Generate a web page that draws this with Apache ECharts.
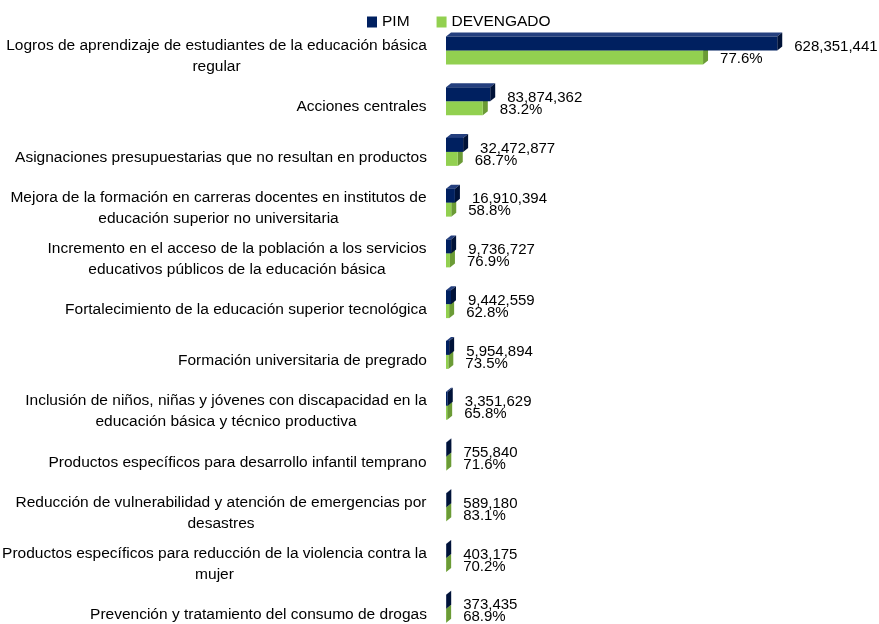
<!DOCTYPE html>
<html>
<head>
<meta charset="utf-8">
<style>
  html, body { margin: 0; padding: 0; background: #fff; }
  #chart { width: 879px; height: 624px; }
</style>
<script src="https://cdn.jsdelivr.net/npm/echarts@6/dist/echarts.min.js"></script>
</head>
<body>
<div id="chart"></div>
<script>
  // categories (top to bottom)
  const categories = [
    'Logros de aprendizaje de estudiantes de la educación básica\nregular',
    'Acciones centrales',
    'Asignaciones presupuestarias que no resultan en productos',
    'Mejora de la formación en carreras docentes en institutos de\neducación superior no universitaria',
    'Incremento en el acceso de la población a los servicios\neducativos públicos de la educación básica',
    'Fortalecimiento de la educación superior tecnológica',
    'Formación universitaria de pregrado',
    'Inclusión de niños, niñas y jóvenes con discapacidad en la\neducación básica y técnico productiva',
    'Productos específicos para desarrollo infantil temprano',
    'Reducción de vulnerabilidad y atención de emergencias por\ndesastres',
    'Productos específicos para reducción de la violencia contra la\nmujer',
    'Prevención y tratamiento del consumo de drogas',
  ];
  const pim = [628351441, 83874362, 32472877, 16910394, 9736727, 9442559,
    5954894, 3351629, 755840, 589180, 403175, 373435];
  // % devengado sobre el PIM
  const avance = [77.6, 83.2, 68.7, 58.8, 76.9, 62.8, 73.5, 65.8, 71.6, 83.1, 70.2, 68.9];

  const devengado = pim.map((v, i) => Math.round(v * avance[i] / 100));

  const FONT = '"Liberation Sans", Arial, sans-serif';
  const CAT_FS = 15.5;
  const VAL_FONT = '15px ' + FONT;

  // widest line of each label, so the lines can be centred like the original
  const ctx = document.createElement('canvas').getContext('2d');
  ctx.font = CAT_FS + 'px ' + FONT;
  const rich = {};
  categories.forEach((c, i) => {
    const w = Math.max(...c.split('\n').map((l) => ctx.measureText(l).width));
    rich['c' + i] = { width: Math.ceil(w), align: 'center', fontSize: CAT_FS, fontFamily: FONT, color: '#000', lineHeight: 21 };
  });

  const DX = 5, DY = 4, H = 14;

  // 3D-looking bar: front, top and side faces, plus its value label
  function bar3d(colors, upper, labelText, labelDy) {
    return function (params, api) {
      const idx = api.value(1);
      const p0 = api.coord([0, idx]);
      const p1 = api.coord([api.value(0), idx]);
      const x0 = p0[0], x1 = p1[0];
      const y = upper ? p0[1] - H : p0[1];
      const text = labelText(params.dataIndex);
      return {
        type: 'group',
        children: [
          { type: 'polygon', shape: { points: [[x0, y], [x0 + DX, y - DY], [x1 + DX, y - DY], [x1, y]] }, style: { fill: colors.top } },
          { type: 'polygon', shape: { points: [[x1, y], [x1 + DX, y - DY], [x1 + DX, y + H - DY], [x1, y + H]] }, style: { fill: colors.side } },
          { type: 'rect', shape: { x: x0, y: y, width: x1 - x0, height: H }, style: { fill: colors.front } },
          {
            type: 'text',
            style: {
              text: text, x: x1 + DX + 12, y: p0[1] + labelDy,
              font: VAL_FONT, fill: '#000', verticalAlign: 'middle', align: 'left',
            },
          },
        ],
      };
    };
  }

  const chart = echarts.init(document.getElementById('chart'));
  chart.setOption({
    animation: false,
    textStyle: { fontFamily: FONT },
    legend: {
      data: [
        { name: 'PIM', itemStyle: { color: '#002060' } },
        { name: 'DEVENGADO', itemStyle: { color: '#92d050' } },
      ],
      left: 362,
      top: 9,
      icon: 'rect',
      itemWidth: 10,
      itemHeight: 11,
      itemGap: 27,
      textStyle: { fontSize: 15.5, color: '#000', fontFamily: FONT },
    },
    grid: {
      left: 446,
      right: 64,
      top: 25,
      height: 609,
      containLabel: false,
      outerBoundsMode: 'none',
    },
    xAxis: {
      type: 'value',
      min: 0,
      max: 700000000,
      show: false,
    },
    yAxis: {
      type: 'category',
      inverse: true,
      data: categories,
      axisLine: { show: false },
      axisTick: { show: false },
      axisLabel: {
        margin: 19,
        padding: [12, 0, 0, 0],
        formatter: (val, idx) => val.split('\n').map((l) => '{c' + idx + '|' + l + '}').join('\n'),
        rich: rich,
      },
    },
    series: [
      {
        name: 'DEVENGADO',
        type: 'custom',
        z: 2,
        encode: { x: 0, y: 1 },
        data: devengado.map((v, i) => [v, i]),
        itemStyle: { color: '#92d050' },
        renderItem: bar3d({ front: '#92d050', top: '#b5e384', side: '#6b9b36' }, false,
          (i) => avance[i].toFixed(1) + '%', 8.5),
      },
      {
        name: 'PIM',
        type: 'custom',
        z: 3,
        encode: { x: 0, y: 1 },
        data: pim.map((v, i) => [v, i]),
        itemStyle: { color: '#002060' },
        renderItem: bar3d({ front: '#002060', top: '#243f7e', side: '#001238' }, true,
          (i) => pim[i].toLocaleString('en-US'), -3.5),
      },
    ],
  });
</script>
</body>
</html>
